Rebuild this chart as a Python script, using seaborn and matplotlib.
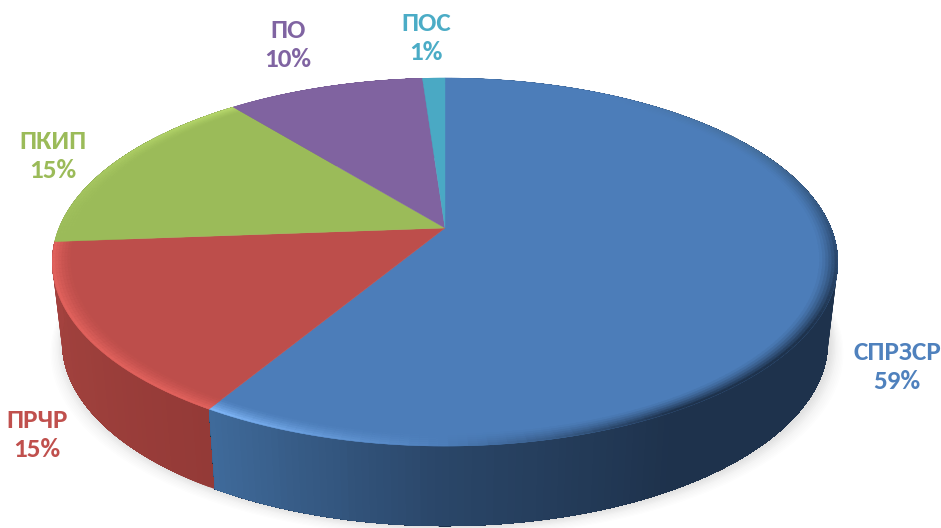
#!/usr/bin/env python
"""Perspective 3D pie of the five categories, drawn on seaborn's white theme."""

import numpy as np
import seaborn as sns
from matplotlib import pyplot as plt

categories = ["СПРЗСР", "ПРЧР", "ПКИП", "ПО", "ПОС"]
# estimated from the slice boundaries, the labels show them rounded
shares = [58.6, 15.2, 15.4, 9.7, 1.1]

TOP_COLORS = ["#4c7db9", "#bd4e4b", "#9bbb59", "#8063a0", "#4aa9c4"]
TEXT_COLORS = ["#4f81bd", "#c0504d", "#9bbb59", "#8064a2", "#4bacc6"]
SIDE_STOPS = [
    ["#1e324c"] * 6 + ["#2a4668", "#3f6a9a"],
    ["#943a37", "#9e403c", "#a4423f"],
    ["#7f9a48", "#7f9a48"],
    ["#66507f", "#66507f"],
    ["#3a8499", "#3a8499"],
]
RIM_STOPS = [
    ["#4c7db9", "#4c7db9", "#46719f", "#30517a", "#1e324c", "#1e324c", "#4c7db9", "#7db4f5"],
    ["#e0615c", "#e0615c"],
    ["#9bbb59", "#b7d86c"],
    ["#8063a0", "#8063a0"],
    ["#4aa9c4", "#4aa9c4"],
]
LABEL_POS = [(897, 367), (37, 435), (53, 156), (288, 45), (426, 38)]

# apex of the pie in pixels and the perspective of the disc
CX, CY = 445, 228
KX, KY, PERSP = 386, 177.7, 0.185
DEPTH, BOTTOM_SCALE = 80, 0.975


def project(frac, r=1.0):
    """Turn a clockwise fraction from 12 o'clock into picture x, y."""
    ang = 2 * np.pi * np.asarray(frac, dtype=float)
    x, y = r * np.sin(ang), -r * np.cos(ang)
    den = 1 - PERSP * y
    return KX * x / den, KY * y / den


def main():
    sns.set_theme(style="white")
    plt.rcParams["font.family"] = ["Carlito", "Open Sans", "DejaVu Sans"]

    fig = plt.figure(figsize=(9.41, 5.28), dpi=100)
    ax = fig.add_axes([0, 0, 1, 1])
    ax.set_xlim(0, 941)
    ax.set_ylim(528, 0)
    ax.axis("off")

    edges = np.concatenate([[0], np.cumsum(shares)]) / np.sum(shares)

    # soft shadow under the disc
    ring = np.linspace(0, 1, 360)
    sx, sy = project(ring)
    for grow, alpha in zip(np.linspace(14, 1, 10), [0.012] * 5 + [0.025] * 5):
        ax.fill(
            CX + sx * BOTTOM_SCALE * (1 + grow / 400) + 2,
            CY + sy + DEPTH + grow * 0.8,
            color="#555555", alpha=alpha, lw=0, zorder=1,
        )

    # side wall, back slices first; each strip runs on to the end of its slice
    # and the next one paints over it, so no seams show between them
    for i in reversed(range(len(shares))):
        n = max(int(400 * (edges[i + 1] - edges[i])), 4)
        cuts = np.linspace(edges[i], edges[i + 1], n + 1)
        shades = sns.blend_palette(SIDE_STOPS[i], n)
        for k in range(n):
            fx = np.linspace(cuts[k], edges[i + 1], n - k + 2)
            x, y = project(fx)
            ax.fill(
                np.r_[CX + x, (CX + x * BOTTOM_SCALE)[::-1]],
                np.r_[CY + y, (CY + y + DEPTH)[::-1]],
                facecolor=shades[k], edgecolor="none", lw=0, zorder=2,
            )

    # top surface
    for i in range(len(shares)):
        fx = np.linspace(edges[i], edges[i + 1], 200)
        x, y = project(fx)
        ax.fill(
            np.r_[CX, CX + x], np.r_[CY, CY + y],
            facecolor=TOP_COLORS[i], edgecolor=TOP_COLORS[i], lw=0.3, zorder=3,
        )

    # bevel along the rim, fading inwards
    radii = np.linspace(0.955, 1.0, 7)
    for i in range(len(shares)):
        n = max(int(300 * (edges[i + 1] - edges[i])), 4)
        cuts = np.linspace(edges[i], edges[i + 1], n + 1)
        rims = sns.blend_palette(RIM_STOPS[i], n)
        base = np.array(sns.color_palette([TOP_COLORS[i]])[0])
        for k in range(n):
            fx = np.linspace(cuts[k], cuts[k + 1], 3)
            for j in range(len(radii) - 1):
                w = ((j + 1) / (len(radii) - 1)) ** 1.4
                col = base * (1 - w) + np.array(rims[k][:3]) * w
                xa, ya = project(fx, radii[j])
                xb, yb = project(fx, radii[j + 1])
                ax.fill(
                    np.r_[CX + xa, (CX + xb)[::-1]],
                    np.r_[CY + ya, (CY + yb)[::-1]],
                    facecolor=col, edgecolor=col, lw=0.3, zorder=4,
                )

    for name, share, pos, col in zip(categories, shares, LABEL_POS, TEXT_COLORS):
        ax.text(
            pos[0], pos[1], f"{name}\n{share:.0f}%",
            color=col, fontsize=19.5, fontweight="bold",
            ha="center", va="center", linespacing=1.3, zorder=5,
        )

    fig.savefig("out.png", dpi=100, facecolor="white")
    plt.close(fig)


if __name__ == "__main__":
    main()
